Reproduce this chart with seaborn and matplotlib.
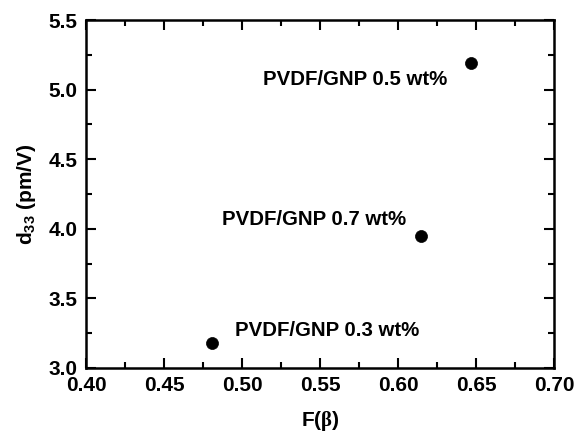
import numpy as np
import pandas as pd
import seaborn as sns
from matplotlib import pyplot as plt

# values
f_beta = [0.481, 0.615, 0.647]
d33 = [3.18, 3.95, 5.19]
labels = ['PVDF/GNP 0.3 wt%', 'PVDF/GNP 0.7 wt%', 'PVDF/GNP 0.5 wt%']
label_x = [0.4955, 0.487, 0.5135]
label_y = [3.27, 4.07, 5.075]

df = pd.DataFrame({'F': f_beta, 'd33': d33})

sns.set_style('ticks')
plt.rcParams['font.family'] = ['Liberation Sans', 'DejaVu Sans']
plt.rcParams['font.weight'] = 'bold'
plt.rcParams['text.color'] = 'black'
plt.rcParams['axes.labelcolor'] = 'black'
plt.rcParams['mathtext.fontset'] = 'custom'
plt.rcParams['mathtext.rm'] = 'Liberation Serif'
plt.rcParams['mathtext.bf'] = 'Liberation Sans:bold'

fig = plt.figure(figsize=(5.82, 4.36), dpi=100)
ax = fig.add_axes([0.148, 0.156, 0.804, 0.798])

sns.scatterplot(data=df, x='F', y='d33', ax=ax, color='black', s=75,
                edgecolor='black', linewidth=0.5, zorder=3)

for t, x, y in zip(labels, label_x, label_y):
    ax.text(x, y, t, fontsize=14.7, fontweight='bold', va='center', ha='left', color='black')

ax.set_xlim(0.40, 0.70)
ax.set_ylim(3.0, 5.5)
ax.set_xticks(np.arange(0.40, 0.701, 0.05))
ax.set_yticks(np.arange(3.0, 5.501, 0.5))
ax.set_xticks(np.arange(0.425, 0.70, 0.05), minor=True)
ax.set_yticks(np.arange(3.25, 5.5, 0.5), minor=True)
ax.set_xticklabels([f'{v:.2f}' for v in np.arange(0.40, 0.701, 0.05)])
ax.set_yticklabels([f'{v:.1f}' for v in np.arange(3.0, 5.501, 0.5)])

for s in ax.spines.values():
    s.set_linewidth(1.8)
    s.set_color('black')
ax.tick_params(which='both', direction='in', top=True, right=True, width=1.5,
               labelsize=15, colors='black', pad=6)
ax.tick_params(which='major', length=7)
ax.tick_params(which='minor', length=4)
for lab in ax.get_xticklabels() + ax.get_yticklabels():
    lab.set_fontweight('bold')

ax.set_xlabel(r'F($\mathrm{\beta}$)', fontsize=15, fontweight='bold', labelpad=10)
ax.set_ylabel(r'd$_{\mathbf{33}}$ (pm/V)', fontsize=15, fontweight='bold', labelpad=8)

fig.savefig('out.png', dpi=100)
